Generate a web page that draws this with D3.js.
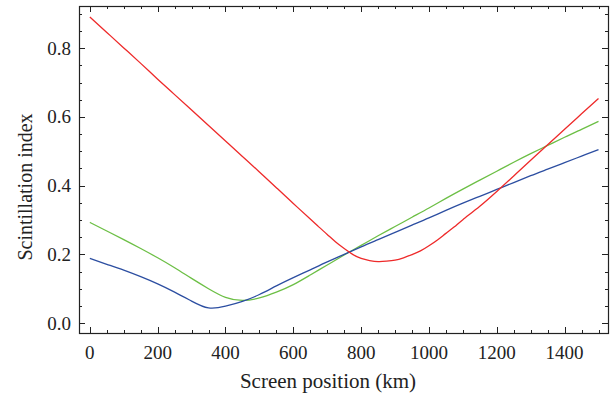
<!DOCTYPE html>
<html>
<head>
<meta charset="utf-8">
<script src="https://cdn.jsdelivr.net/npm/d3@7"></script>
<style>
  body { margin: 0; background: #fff; }
  svg text { font-family: "Liberation Serif", "DejaVu Serif", serif; fill: #222; }
</style>
</head>
<body>
<svg id="chart" width="615" height="396"></svg>
<script>
// screen position (km)
var positions = [0, 50, 100, 150, 200, 250, 300, 350, 400, 450, 500, 550, 600, 650, 700, 750,
                 800, 850, 900, 950, 1000, 1050, 1100, 1150, 1200, 1250, 1300, 1350, 1400, 1450, 1500];

// red curve is read more finely around its minimum
var redPositions = [0, 50, 100, 150, 200, 250, 300, 350, 400, 450, 500, 550, 600, 650, 675, 700, 725, 750, 775,
                    800, 825, 850, 875, 900, 925, 950, 975, 1000, 1025, 1050, 1075, 1100,
                    1150, 1200, 1250, 1300, 1350, 1400, 1450, 1500];

var redValues = [0.891, 0.846, 0.801, 0.756, 0.710, 0.665, 0.620, 0.575, 0.530, 0.485, 0.440, 0.394, 0.348, 0.303, 0.280, 0.258, 0.236, 0.217, 0.200,
                 0.188, 0.182, 0.179, 0.180, 0.183, 0.190, 0.199, 0.210, 0.225, 0.242, 0.261, 0.280, 0.301,
                 0.340, 0.383, 0.428, 0.474, 0.519, 0.564, 0.609, 0.654];

var greenValues = [0.293, 0.268, 0.243, 0.217, 0.190, 0.161, 0.130, 0.100, 0.075, 0.066, 0.073, 0.090, 0.112, 0.140, 0.169, 0.198,
                   0.226, 0.254, 0.281, 0.308, 0.335, 0.363, 0.390, 0.416, 0.442, 0.468, 0.493, 0.517, 0.541, 0.564, 0.587];

var blueValues = [0.188, 0.171, 0.154, 0.135, 0.114, 0.090, 0.064, 0.044, 0.049, 0.063, 0.083, 0.108, 0.132, 0.155, 0.178, 0.200,
                  0.222, 0.243, 0.264, 0.285, 0.306, 0.328, 0.349, 0.369, 0.389, 0.409, 0.429, 0.448, 0.467, 0.486, 0.505];

var xTicks = [0, 200, 400, 600, 800, 1000, 1200, 1400];
var yTicks = [0.0, 0.2, 0.4, 0.6, 0.8];

var margin = { top: 6, right: 7, bottom: 63, left: 79 };
var W = 615, H = 396;

var svg = d3.select("#chart");

var xScale = d3.scaleLinear()
    .domain([-32, 1528])
    .range([margin.left, W - margin.right]);

var yScale = d3.scaleLinear()
    .domain([-0.029, 0.923])
    .range([H - margin.bottom, margin.top]);

var line = d3.line()
    .x(function (d) { return xScale(d[0]); })
    .y(function (d) { return yScale(d[1]); })
    .curve(d3.curveNatural);

// ticks (inward on all four sides)
var xMinor = d3.range(0, 1501, 50);
var yMinor = d3.range(0, 0.91, 0.05);
var x0 = margin.left, x1 = W - margin.right, y0 = margin.top, y1 = H - margin.bottom;

function isMajor(v, list) { return list.some(function (t) { return Math.abs(t - v) < 1e-6; }); }

var ticks = svg.append("g").attr("stroke", "#222").attr("stroke-width", 1);
xMinor.forEach(function (v) {
    var len = isMajor(v, xTicks) ? 6 : 3;
    var px = Math.round(xScale(v)) + 0.5;
    ticks.append("line").attr("x1", px).attr("x2", px).attr("y1", y1).attr("y2", y1 - len);
    ticks.append("line").attr("x1", px).attr("x2", px).attr("y1", y0).attr("y2", y0 + len);
});
yMinor.forEach(function (v) {
    var len = isMajor(v, yTicks) ? 6 : 3;
    var py = Math.round(yScale(v)) + 0.5;
    ticks.append("line").attr("y1", py).attr("y2", py).attr("x1", x0).attr("x2", x0 + len);
    ticks.append("line").attr("y1", py).attr("y2", py).attr("x1", x1).attr("x2", x1 - len);
});

// frame
svg.append("rect")
    .attr("x", x0 + 0.5).attr("y", y0 + 0.5)
    .attr("width", x1 - x0).attr("height", y1 - y0)
    .attr("fill", "none").attr("stroke", "#222").attr("stroke-width", 1.2);

// tick labels
svg.append("g").selectAll("text")
    .data(xTicks)
    .enter().append("text")
    .attr("x", function (d) { return xScale(d); })
    .attr("y", 359)
    .attr("text-anchor", "middle")
    .attr("font-size", 19)
    .text(function (d) { return d; });

svg.append("g").selectAll("text")
    .data(yTicks)
    .enter().append("text")
    .attr("x", 71)
    .attr("y", function (d) { return yScale(d) + 6.5; })
    .attr("text-anchor", "end")
    .attr("font-size", 19)
    .text(function (d) { return d.toFixed(1); });

// axis titles
svg.append("text")
    .attr("x", 328)
    .attr("y", 388)
    .attr("text-anchor", "middle")
    .attr("font-size", 21)
    .text("Screen position (km)");

svg.append("text")
    .attr("transform", "translate(32,187) rotate(-90)")
    .attr("text-anchor", "middle")
    .attr("font-size", 20)
    .text("Scintillation index");

// curves
var series = [
    { name: "green", color: "#6cbf45", xs: positions, values: greenValues },
    { name: "blue", color: "#2c4ea1", xs: positions, values: blueValues },
    { name: "red", color: "#ee2a2a", xs: redPositions, values: redValues }
];

series.forEach(function (s) {
    svg.append("path")
        .datum(s.xs.map(function (p, i) { return [p, s.values[i]]; }))
        .attr("fill", "none")
        .attr("stroke", s.color)
        .attr("stroke-width", 1.3)
        .attr("d", line);
});
</script>
</body>
</html>
